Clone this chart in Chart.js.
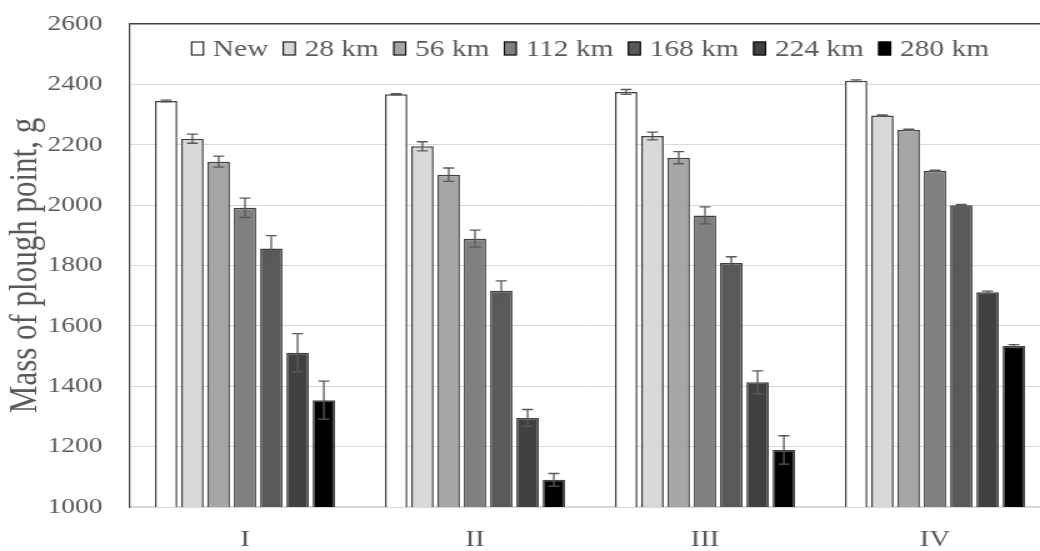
<!DOCTYPE html>
<html>
<head>
<meta charset="utf-8">
<script src="https://cdn.jsdelivr.net/npm/chart.js@4/dist/chart.umd.min.js"></script>
<style>
  html, body { margin: 0; padding: 0; background: #fff; overflow: hidden; width: 1040px; height: 551px; }
  #wrap { position: absolute; left: 0; top: 0; width: 840px; height: 551px; transform: scaleX(1.25); transform-origin: 0 0; }
</style>
</head>
<body>
<div id="wrap"><canvas id="c" width="840" height="551"></canvas></div>
<script>
const categories = ['I', 'II', 'III', 'IV'];
const seriesNames = ['New', '28 km', '56 km', '112 km', '168 km', '224 km', '280 km'];
const seriesColors = ['#ffffff', '#d9d9d9', '#a6a6a6', '#808080', '#595959', '#404040', '#000000'];

const valNew = [2345, 2367, 2375, 2412];
const val28  = [2220, 2195, 2229, 2297];
const val56  = [2144, 2101, 2157, 2250];
const val112 = [1991, 1889, 1966, 2114];
const val168 = [1856, 1716, 1808, 2000];
const val224 = [1511, 1295, 1413, 1711];
const val280 = [1354, 1090, 1189, 1533];

const errNew = [3, 2, 8, 3];
const err28  = [15, 15, 13, 2];
const err56  = [18, 22, 20, 2];
const err112 = [32, 28, 28, 2];
const err168 = [43, 33, 21, 2];
const err224 = [63, 28, 38, 4];
const err280 = [63, 21, 47, 5];

const yTicks = [1000, 1200, 1400, 1600, 1800, 2000, 2200, 2400, 2600];

const allValues = [valNew, val28, val56, val112, val168, val224, val280];
const allErrors = [errNew, err28, err56, err112, err168, err224, err280];

const FONT = '"Liberation Serif", "Times New Roman", serif';
const TXT = '#595959';

const errorBars = {
  id: 'errorBars',
  afterDatasetsDraw(chart) {
    const ctx = chart.ctx;
    const y = chart.scales.y;
    ctx.save();
    ctx.strokeStyle = '#595959';
    ctx.lineWidth = 1.3;
    chart.data.datasets.forEach((ds, i) => {
      const meta = chart.getDatasetMeta(i);
      meta.data.forEach((bar, j) => {
        const v = ds.data[j], e = ds.errors[j];
        const yt = y.getPixelForValue(v + e);
        const yb = y.getPixelForValue(v - e);
        const x = bar.x, hw = 4.4;
        ctx.beginPath();
        ctx.moveTo(x, yt); ctx.lineTo(x, yb);
        ctx.moveTo(x - hw, yt); ctx.lineTo(x + hw, yt);
        ctx.moveTo(x - hw, yb); ctx.lineTo(x + hw, yb);
        ctx.stroke();
      });
    });
    ctx.restore();
  }
};

const insideLegend = {
  id: 'insideLegend',
  afterDraw(chart) {
    const ctx = chart.ctx;
    const a = chart.chartArea;
    const boxW = 10.5, boxH = 14, gap = 7, spacing = 11.5, cy = 48.5;
    ctx.save();
    ctx.font = '23.5px ' + FONT;
    const items = chart.data.datasets.map(ds => ({
      label: ds.label, color: ds.backgroundColor, w: ctx.measureText(ds.label).width
    }));
    const total = items.reduce((s, it) => s + boxW + gap + it.w, 0) + spacing * (items.length - 1);
    let x = (a.left + a.right) / 2 - total / 2;
    ctx.textBaseline = 'middle';
    ctx.textAlign = 'left';
    items.forEach(it => {
      ctx.fillStyle = it.color;
      ctx.fillRect(x, cy - boxH / 2, boxW, boxH);
      ctx.strokeStyle = '#000000';
      ctx.lineWidth = 1;
      ctx.strokeRect(x + 0.5, cy - boxH / 2 + 0.5, boxW - 1, boxH - 1);
      ctx.fillStyle = TXT;
      ctx.fillText(it.label, x + boxW + gap, cy + 1);
      x += boxW + gap + it.w + spacing;
    });
    ctx.restore();
  }
};

new Chart(document.getElementById('c'), {
  type: 'bar',
  data: {
    labels: categories,
    datasets: seriesNames.map((n, i) => ({
      label: n,
      data: allValues[i],
      errors: allErrors[i],
      backgroundColor: seriesColors[i],
      borderColor: '#404040',
      borderWidth: 1.5,
      categoryPercentage: 0.8,
      barPercentage: 0.85
    }))
  },
  options: {
    responsive: false,
    animation: false,
    devicePixelRatio: 1,
    layout: { padding: { top: 24, left: 0, right: 0, bottom: 0 } },
    plugins: {
      tooltip: { enabled: false },
      legend: { display: false }
    },
    scales: {
      x: {
        grid: { display: false, drawTicks: false },
        border: { color: '#d9d9d9', width: 1.5 },
        ticks: { color: TXT, font: { family: FONT, size: 23 }, padding: 19 },
        afterFit(s) { s.height = 44; s.paddingLeft = 0; s.paddingRight = 0; }
      },
      y: {
        min: 1000, max: 2600,
        afterBuildTicks(s) { s.ticks = yTicks.map(v => ({ value: v })); },
        grid: {
          drawTicks: false,
          color: c => (c.tick && c.tick.value === 2600) ? '#404040' : '#d9d9d9',
          lineWidth: c => (c.tick && c.tick.value === 2600) ? 1.5 : 1
        },
        border: { color: '#404040', width: 1.2 },
        ticks: {
          color: TXT, font: { family: FONT, size: 22 }, padding: 22,
          callback: v => String(v)
        },
        title: {
          display: true,
          text: 'Mass of plough point, g',
          color: TXT,
          font: { family: FONT, size: 31 },
          padding: { top: 2, bottom: 0 }
        },
        afterFit(s) { s.width = 104; s.paddingTop = 0; s.paddingBottom = 0; }
      }
    }
  },
  plugins: [errorBars, insideLegend]
});
</script>
</body>
</html>
